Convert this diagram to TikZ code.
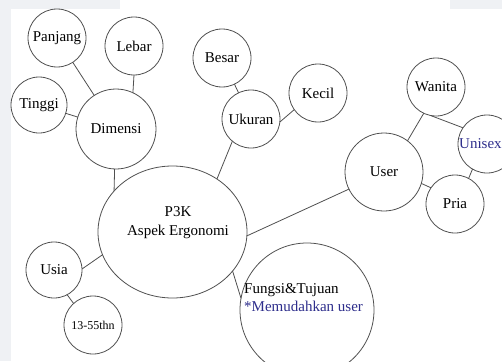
\documentclass[tikz,border=0pt]{standalone}
\usepackage{fontspec}
\setmainfont{Liberation Serif}
\usetikzlibrary{shapes.geometric}
\definecolor{bgray}{HTML}{EFF1F4}
\definecolor{lineg}{HTML}{505050}
\definecolor{navy}{HTML}{2E2E8C}
\begin{document}
\begin{tikzpicture}[x=1pt,y=-1pt,
  bub/.style={circle,draw=lineg,line width=0.8pt,inner sep=0pt,outer sep=0pt,font=\fontsize{15}{18}\selectfont},
  txt/.style={inner sep=0pt,font=\fontsize{15}{18}\selectfont},
  conn/.style={draw=lineg,line width=0.8pt}]
\useasboundingbox (0,0) rectangle (502,361);
\clip (0,0) rectangle (502,361);
\fill[bgray] (0,0) rectangle (502,361);
\fill[white] (11,9) rectangle (502,361);
\fill[white] (120,0) rectangle (450,9);

% nodes
\node[bub,minimum size=58pt] (panjang) at (57,38) {Panjang};
\node[bub,minimum size=58pt] (lebar) at (134,46) {Lebar};
\node[bub,minimum size=56pt] (tinggi) at (39,105) {Tinggi};
\node[bub,minimum size=80pt] (dimensi) at (116,129) {Dimensi};
\node[bub,minimum size=58pt] (besar) at (222,58) {Besar};
\node[bub,minimum size=58pt] (ukuran) at (251,119) {Ukuran};
\node[bub,minimum size=58pt] (kecil) at (318,93) {Kecil};
\node[bub,minimum size=58pt] (wanita) at (436,87) {Wanita};
\node[bub,minimum size=58pt] (unisex) at (487,144) {};
\node[txt,anchor=west,text=navy] (unisext) at (459,144) {Unisex};
\node[bub,minimum size=78pt] (user) at (384,172) {User};
\node[bub,minimum size=58pt] (pria) at (455,204) {Pria};
\node[ellipse,draw=lineg,line width=0.8pt,inner sep=0pt,outer sep=0pt,minimum width=149pt,minimum height=132pt] (p3k) at (172.5,232) {};
\node[txt,align=center,font=\fontsize{15}{19}\selectfont] (p3kt) at (178,222.5) {P3K\\Aspek Ergonomi};
\node[bub,minimum size=56pt] (usia) at (54,270) {Usia};
\node[bub,minimum size=58pt,font=\fontsize{12}{14}\selectfont] (thn) at (93,325) {13-55thn};
\node[bub,minimum size=134pt] (fungsi) at (307,310) {};
\node[txt,align=left,anchor=west] (fungsit) at (244,298) {Fungsi\&Tujuan\\\textcolor{navy}{*Memudahkan user}};

% connectors
\draw[conn] (panjang) -- (dimensi);
\draw[conn] (lebar.-90) -- (dimensi.65);
\draw[conn] (tinggi) -- (dimensi);
\draw[conn] (dimensi.-92) -- (p3k.145);
\draw[conn] (besar) -- (ukuran);
\draw[conn] (ukuran.-6) -- (kecil.215);
\draw[conn] (ukuran.230) -- (p3k.50);
\draw[conn] (wanita.245) -- (user.53);
\draw[conn] (wanita.259) -- (unisex.146);
\draw[conn] (user.-17) -- (pria.146);
\draw[conn] (unisex.-120) -- (pria.62);
\draw[conn] (user.206) -- (p3k.-3);
\draw[conn] (p3k.-33) -- (fungsi.170);
\draw[conn] (p3k.198) -- (usia.2);
\draw[conn] (usia.-62) -- (thn.132);
\end{tikzpicture}
\end{document}
